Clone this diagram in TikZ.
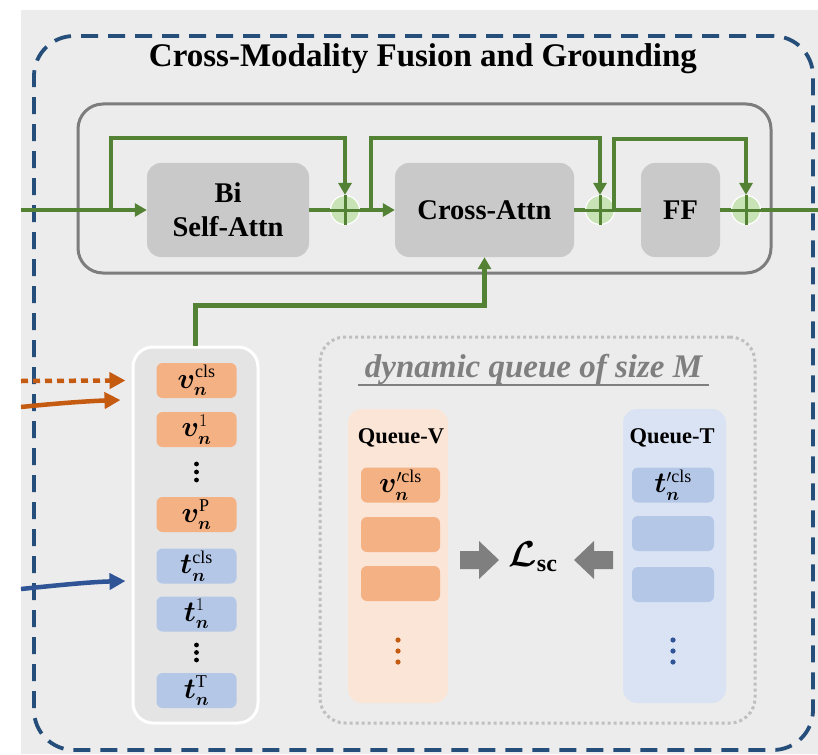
\RequirePackage{fix-cm}
\documentclass[tikz,border=0pt]{standalone}
\usepackage{amsmath,bm}
\usepackage{fontspec}
\setmainfont{Liberation Serif}
\usetikzlibrary{arrows.meta,calc}
\DeclareMathSizes{29}{29}{18}{13}
\DeclareMathSizes{36}{36}{24}{16}
\definecolor{cbg}{RGB}{236,236,236}
\definecolor{cdash}{RGB}{38,78,122}
\definecolor{cgreen}{RGB}{84,130,53}
\definecolor{cplus}{RGB}{200,228,182}
\definecolor{cbox}{RGB}{201,201,201}
\definecolor{cinner}{RGB}{125,125,125}
\definecolor{corange}{RGB}{244,177,131}
\definecolor{cblue}{RGB}{180,199,231}
\definecolor{cqv}{RGB}{251,229,214}
\definecolor{cqt}{RGB}{218,227,243}
\definecolor{corarrow}{RGB}{197,90,17}
\definecolor{cblarrow}{RGB}{47,85,151}
\definecolor{cdot}{RGB}{191,191,191}
\definecolor{cgray}{RGB}{127,127,127}
\definecolor{ccol}{RGB}{228,228,228}
\begin{document}
\begin{tikzpicture}[x=1pt,y=-1pt,
  gline/.style={draw=cgreen,line width=4.5pt},
  garrow/.style={gline,-{Triangle[length=12pt,width=13pt]}},
  blockbox/.style={rectangle,rounded corners=14pt,fill=cbox,inner sep=0pt,
    font=\fontsize{28.5}{34}\selectfont\bfseries,align=center},
  plusc/.style={circle,minimum size=29pt,inner sep=0pt,fill=cplus,draw=white,line width=1.2pt},
  tokv/.style={rectangle,rounded corners=6pt,fill=corange,minimum width=80pt,
    minimum height=35pt,inner sep=0pt,font=\fontsize{29}{30}\selectfont},
  tokt/.style={tokv,fill=cblue},
  qlabel/.style={font=\fontsize{22.5}{24}\selectfont\bfseries},
  inarrow/.style={line width=4.5pt,-{Triangle[length=16pt,width=16pt]}},
]
\useasboundingbox (0,0) rectangle (818,754);
\fill[white] (0,0) rectangle (818,754);
\fill[cbg] (21,10) rectangle (818,754);

% outer dashed frame
\node[draw=cdash,line width=3.8pt,dash pattern=on 17pt off 10pt,rounded corners=40pt,
  minimum width=779pt,minimum height=714pt,inner sep=0pt] (frame) at (423.5,393) {};
\node[anchor=base,font=\fontsize{33}{36}\selectfont\bfseries] (title) at (423,67)
  {Cross-Modality Fusion and Grounding};

% inner layer box
\node[draw=cinner,line width=3pt,rounded corners=25pt,minimum width=693pt,
  minimum height=169pt,inner sep=0pt] (layer) at (424.5,188.5) {};

% blocks
\node[blockbox,minimum width=162pt,minimum height=94pt] (bisa) at (228,210) {Bi\\Self-Attn};
\node[blockbox,minimum width=179pt,minimum height=94pt] (ca) at (484.5,210) {Cross-Attn};
\node[blockbox,minimum width=79pt,minimum height=94pt] (ff) at (680.5,210) {FF};

\coordinate (in) at (21,210);
\coordinate (out) at (818,210);
\coordinate (s1) at (111,210);
\coordinate (s2) at (371,210);
\coordinate (s3) at (614,210);
\node[plusc] (p1) at (345,210) {};
\node[plusc] (p2) at (600,210) {};
\node[plusc] (p3) at (746,210) {};

% main path
\draw[garrow] (in) -- (bisa.west);
\draw[gline] (bisa.east) -- (p1.west);
\draw[garrow] (p1.east) -- (ca.west);
\draw[gline] (ca.east) -- (p2.west);
\draw[gline] (p2.east) -- (ff.west);
\draw[gline] (ff.east) -- (p3.west);
\draw[gline] (p3.east) -- (out);
% skips
\draw[garrow] (s1) -- ++(0,-72) -| (p1.north);
\draw[garrow] (s2) -- ++(0,-72) -| (p2.north);
\draw[garrow] (s3) -- ++(0,-71) -| (p3.north);
% plus signs
\foreach \p in {p1,p2,p3}{
  \draw[cgreen,line width=3pt] (\p.north) -- (\p.south);
  \draw[cgreen,line width=3pt] (\p.west) -- (\p.east);
}

% token column
\node[draw=white,line width=3pt,fill=ccol,rounded corners=20pt,minimum width=125pt,
  minimum height=376pt,inner sep=0pt] (tokcol) at (195.5,535) {};
\node[tokv] (vcls) at (196.5,380.5) {$\bm{v}_{\bm{n}}^{\mathrm{cls}}$};
\node[tokv] (v1) at (196.5,429.5) {$\bm{v}_{\bm{n}}^{1}$};
\node[tokv] (vP) at (196.5,514.5) {$\bm{v}_{\bm{n}}^{\mathrm{P}}$};
\node[tokt] (tcls) at (196.5,566) {$\bm{t}_{\bm{n}}^{\mathrm{cls}}$};
\node[tokt] (t1) at (196.5,614) {$\bm{t}_{\bm{n}}^{1}$};
\node[tokt] (tT) at (196.5,690.5) {$\bm{t}_{\bm{n}}^{\mathrm{T}}$};
\foreach \yy in {464,472,480}{\fill[black] (196.5,\yy) circle (2.4pt);}
\foreach \yy in {645,652.5,660}{\fill[black] (196.5,\yy) circle (2.4pt);}

% column to cross-attn
\draw[garrow] (tokcol.north) -- ++(0,-40) -| (ca.south);

% incoming arrows
\coordinate (o1) at (21,381);
\coordinate (o2) at (21,407);
\coordinate (b1) at (21,589);
\draw[inarrow,corarrow,dash pattern=on 7pt off 5pt] (o1) -- ([xshift=-6pt]vcls.west -| tokcol.west);
\draw[inarrow,corarrow] (o2) .. controls (60,403) and (90,401) .. ([xshift=-11pt]tokcol.west |- 0,400);
\draw[inarrow,cblarrow] (b1) .. controls (60,585) and (90,582) .. ([xshift=-6pt]tokcol.west |- 0,581);

% dynamic queue
\node[draw=cdot,line width=3pt,dash pattern=on 3pt off 3pt,rounded corners=25pt,
  minimum width=435pt,minimum height=386pt,inner sep=0pt] (dq) at (537.5,530) {};
\node[anchor=base,text=cgray,font=\fontsize{33}{36}\selectfont\bfseries\itshape] (dqt) at (533.5,377)
  {dynamic queue of size \textit{M}};
\draw[cgray,line width=2pt] (358,385) -- (709,385);

\node[fill=cqv,rounded corners=14pt,minimum width=100pt,minimum height=294pt,inner sep=0pt] (qv) at (398,556) {};
\node[fill=cqt,rounded corners=14pt,minimum width=103pt,minimum height=294pt,inner sep=0pt] (qt) at (674.5,556) {};
\node[qlabel] (qvl) at (401,438) {Queue-V};
\node[qlabel] (qtl) at (672,438) {Queue-T};

\node[tokv,minimum width=79pt] (qv1) at (400.5,485) {$\bm{v}_{\bm{n}}^{\prime\mathrm{cls}}$};
\node[tokv,minimum width=79pt] (qv2) at (400.5,534.5) {};
\node[tokv,minimum width=79pt] (qv3) at (400.5,583.5) {};
\node[tokt,minimum width=82pt] (qt1) at (673,485) {$\bm{t}_{\bm{n}}^{\prime\mathrm{cls}}$};
\node[tokt,minimum width=82pt] (qt2) at (673,533.5) {};
\node[tokt,minimum width=82pt] (qt3) at (673,584.5) {};
\foreach \yy in {640,651,662}{\fill[corarrow] (398,\yy) circle (2.6pt);}
\foreach \yy in {640,651,662}{\fill[cblarrow] (673,\yy) circle (2.6pt);}

% loss
\node[font=\fontsize{36}{38}\selectfont] (loss) at (533,557) {$\bm{\mathcal{L}}_{\mathbf{sc}}$};
\fill[cgray] (460,551) -- (479,551) -- (479,541) -- (499,560) -- (479,579) -- (479,569) -- (460,569) -- cycle;
\fill[cgray] (613,551) -- (594,551) -- (594,541) -- (574,560) -- (594,579) -- (594,569) -- (613,569) -- cycle;
\end{tikzpicture}
\end{document}
